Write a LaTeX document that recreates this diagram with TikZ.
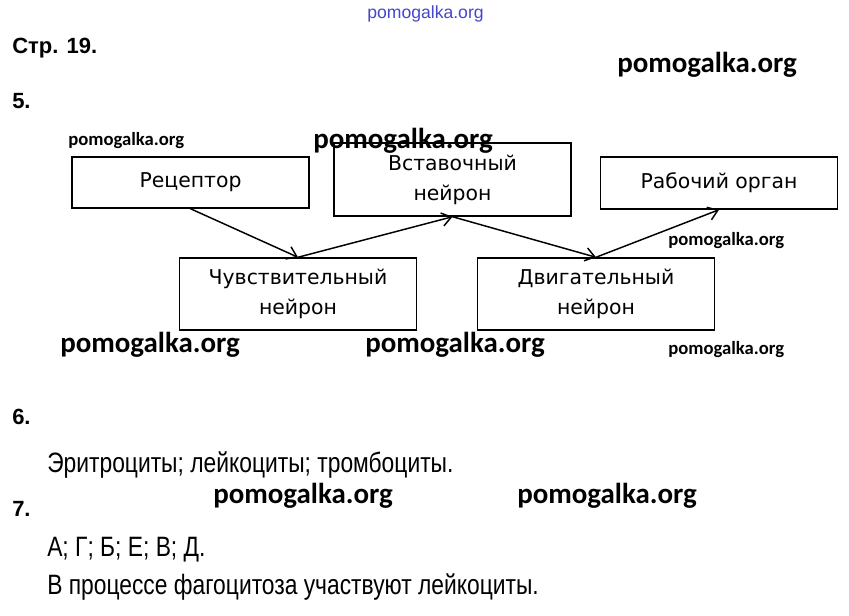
\documentclass[tikz,border=0pt]{standalone}
\usepackage{fontspec}
\setmainfont{Liberation Sans}
\newfontfamily\narrowfont[FakeStretch=0.815]{Liberation Sans}
\newfontfamily\boxfont{DejaVu Sans}
\newfontfamily\markfont{Carlito}
\usetikzlibrary{arrows.meta}
\definecolor{markblue}{RGB}{70,70,205}

\tikzset{
  unit/.style={draw, line width=1.1pt, minimum width=177.75pt, inner sep=0pt,
    align=center, font=\boxfont\fontsize{15.3}{22.5}\selectfont},
  link/.style={line width=1.1pt, -{Straight Barb[length=7pt,width=10pt,line width=1.1pt]}},
  bigmark/.style={anchor=base west, inner sep=0pt, font=\markfont\bfseries\fontsize{21.7}{26}\selectfont},
  smallmark/.style={anchor=base west, inner sep=0pt, font=\markfont\bfseries\fontsize{14}{17}\selectfont},
  head/.style={anchor=base west, inner sep=0pt, font=\bfseries\fontsize{16.5}{20}\selectfont},
  answer/.style={anchor=base west, inner sep=0pt, font=\narrowfont\fontsize{21}{25}\selectfont}
}

\begin{document}
\begin{tikzpicture}[x=0.75pt, y=-0.75pt]
	\useasboundingbox[fill=white] (0,0) rectangle (849,615);
	% headings
	\node[anchor=base west, inner sep=0pt, text=markblue, font=\fontsize{13.2}{16}\selectfont] (wmtop) at (367,18) {pomogalka.org};
	\node[head] (page) at (12,53) {Стр. 19.};
	\node[head] (t5) at (12,108) {5.};
	\node[head] (t6) at (12,424) {6.};
	\node[head] (t7) at (12,516) {7.};
	% boxes
	\node[unit, minimum height=38.25pt] (receptor) at (190.5,182.5) {Рецептор};
	\node[unit, minimum height=54.75pt] (inter) at (452.5,179.5) {Вставочный\\нейрон};
	\node[unit, minimum height=39pt] (organ) at (719,183) {Рабочий орган};
	\node[unit, minimum height=54pt] (sensory) at (298,294) {Чувствительный\\нейрон};
	\node[unit, minimum height=54pt] (motor) at (596,294) {Двигательный\\нейрон};
	% arrows
	\draw[link] (receptor.south) -- (sensory.north);
	\draw[link] (sensory.north) -- (inter.south);
	\draw[link] (inter.south) -- (motor.north);
	\draw[link] (motor.north) -- (organ.south);
	% answers
	\node[answer] (a6) at (47,472) {Эритроциты; лейкоциты; тромбоциты.};
	\node[answer] (a7) at (47,556) {А; Г; Б; Е; В; Д.};
	\node[answer] (a7b) at (47,594) {В процессе фагоцитоза участвуют лейкоциты.};
	% watermarks
	\node[bigmark] (wm1) at (617,72) {pomogalka.org};
	\node[bigmark] (wm2) at (313,148) {pomogalka.org};
	\node[bigmark] (wm3) at (60,352) {pomogalka.org};
	\node[bigmark] (wm4) at (365,352) {pomogalka.org};
	\node[bigmark] (wm5) at (213,503) {pomogalka.org};
	\node[bigmark] (wm6) at (517,503) {pomogalka.org};
	\node[smallmark] (wm7) at (68,145) {pomogalka.org};
	\node[smallmark] (wm8) at (668,245) {pomogalka.org};
	\node[smallmark] (wm9) at (668,354) {pomogalka.org};
\end{tikzpicture}
\end{document}
